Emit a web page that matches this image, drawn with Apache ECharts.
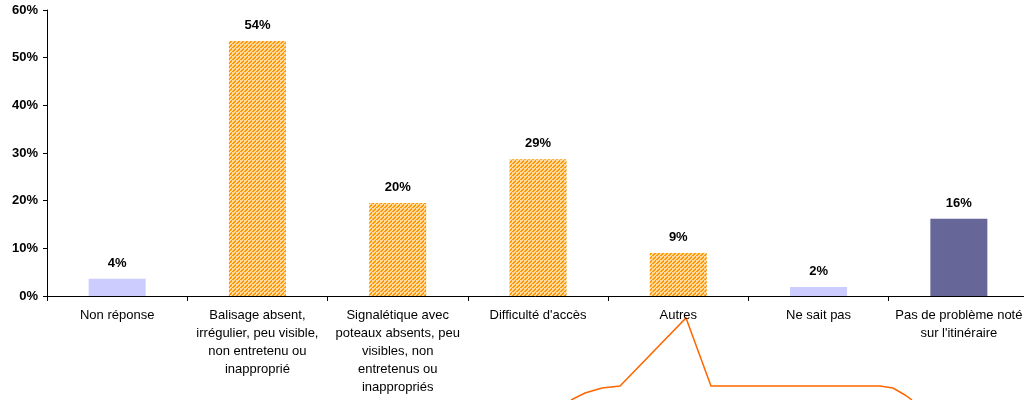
<!DOCTYPE html>
<html><head><meta charset="utf-8">
<script src="https://cdn.jsdelivr.net/npm/echarts@6/dist/echarts.min.js"></script>
<style>html,body{margin:0;padding:0;background:#fff}#c{width:1024px;height:400px}</style>
</head><body><div id="c"></div>
<script>
const categories = ["Non réponse", "Balisage absent,\nirrégulier, peu visible,\nnon entretenu ou\ninapproprié", "Signalétique avec\npoteaux absents, peu\nvisibles, non\nentretenus ou\ninappropriés", "Difficulté d'accès", "Autres", "Ne sait pas", "Pas de problème noté\nsur l'itinéraire"];
const values = [3.6, 53.5, 19.5, 28.7, 9.0, 1.9, 16.2];
const barKinds = ["light", "hatch", "hatch", "hatch", "hatch", "light", "dark"];
const yTicks = [0, 10, 20, 30, 40, 50, 60];

const pc = document.createElement('canvas');
pc.width = 4; pc.height = 4;
const g = pc.getContext('2d');
g.fillStyle = '#FFD9A0'; g.fillRect(0,0,4,4);
g.fillStyle = '#FF9900';
for (let i = 0; i < 4; i++) { g.fillRect((3 - i + 4) % 4, i, 2, 1); }
const fills = { light: '#CCCCFF', dark: '#666699', hatch: { image: pc, repeat: 'repeat' } };

const chart = echarts.init(document.getElementById('c'), null, {renderer: 'canvas'});
chart.setOption({
  animation: false,
  textStyle: { fontFamily: 'Liberation Sans, Arial, sans-serif' },
  grid: { left: 47, width: 982, top: 10, bottom: 104, containLabel: false, outerBoundsMode: 'none' },
  xAxis: {
    type: 'category', data: categories,
    axisLine: { lineStyle: { color: '#000', width: 1 } },
    axisTick: { show: true, alignWithLabel: false, length: 5, lineStyle: { color: '#000' } },
    axisLabel: { color: '#000', fontSize: 13, lineHeight: 18, margin: 10, interval: 0 }
  },
  yAxis: {
    type: 'value', min: 0, max: 60, interval: 10,
    axisLine: { show: true, lineStyle: { color: '#000', width: 1 } },
    axisTick: { show: true, length: 4, lineStyle: { color: '#000' } },
    splitLine: { show: false },
    axisLabel: { color: '#000', fontSize: 13, fontWeight: 'bold', margin: 9, formatter: v => yTicks.includes(v) ? v + '%' : '' }
  },
  series: [{
    type: 'bar', barWidth: 57,
    data: values.map((v, i) => ({ value: v, itemStyle: { color: fills[barKinds[i]] } })),
    label: { show: true, position: 'top', distance: 9, color: '#000', fontSize: 13, fontWeight: 'bold',
      formatter: p => Math.round(p.value) + '%' }
  }],
  graphic: [{
    type: 'polyline',
    shape: { points: [[571,400],[585,393],[602,388],[620,386],[686,318],[711,386],[880,386],[893,388],[905,395],[912,400]] },
    style: { stroke: '#FF6600', lineWidth: 1.5, fill: null }
  }]
});
</script></body></html>
